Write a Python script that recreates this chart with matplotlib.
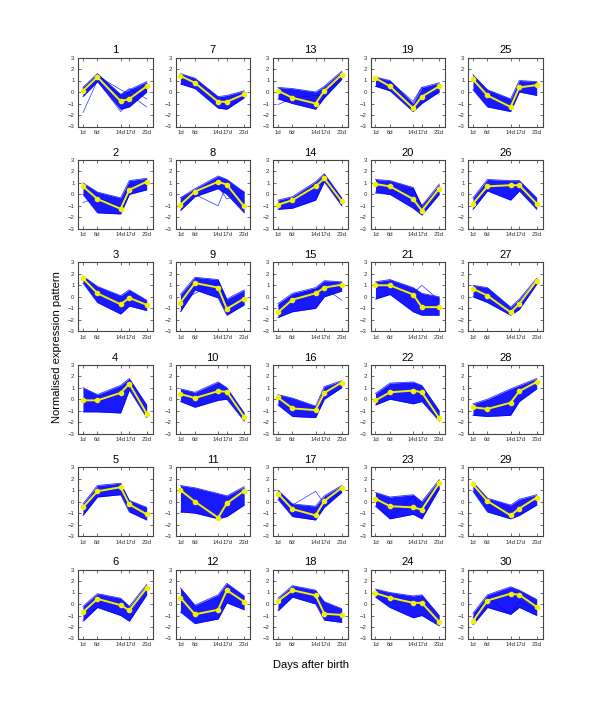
import matplotlib
matplotlib.use("Agg")
import matplotlib.pyplot as plt
import matplotlib.transforms as mtransforms

plt.rcParams['font.family'] = ['Liberation Sans', 'DejaVu Sans']

days = [1, 6, 14, 17, 23]
day_labels = ["1d", "6d", "14d", "17d", "23d"]
y_ticks = [-3, -2, -1, 0, 1, 2, 3]

# cluster id -> mean profile (yellow)
means = {
    1: [0.1, 1.3, -0.8, -0.6, 0.5],
    2: [0.7, -0.4, -1.25, 0.4, 1.1],
    3: [1.6, 0.3, -0.65, -0.1, -0.7],
    4: [-0.1, -0.1, 0.55, 1.35, -1.25],
    5: [-0.5, 0.9, 1.25, -0.25, -1.1],
    6: [-0.7, 0.45, -0.1, -0.55, 1.4],
    7: [1.4, 0.8, -0.85, -0.85, -0.2],
    8: [-0.9, 0.25, 1.1, 0.85, -1.05],
    9: [-0.5, 1.2, 0.8, -1.05, -0.15],
    10: [0.45, 0.1, 0.7, 0.65, -1.55],
    11: [1.0, 0.0, -1.4, -0.15, 0.95],
    12: [0.55, -0.9, -0.5, 1.2, 0.2],
    13: [0.1, -0.5, -1.0, 0.1, 1.5],
    14: [-0.9, -0.5, 0.7, 1.4, -0.6],
    15: [-1.35, -0.25, 0.3, 0.8, 1.05],
    16: [0.15, -0.8, -0.95, 0.55, 1.45],
    17: [0.7, -0.65, -1.2, 0.05, 1.2],
    18: [0.25, 1.2, 0.75, -0.85, -0.95],
    19: [1.2, 0.5, -1.4, -0.4, 0.5],
    20: [0.9, 0.7, -0.4, -1.4, 0.5],
    21: [1.0, 1.0, 0.2, -0.9, -0.9],
    22: [-0.1, 0.6, 0.75, 0.6, -1.65],
    23: [0.25, -0.4, -0.5, -0.7, 1.6],
    24: [0.95, 0.55, 0.1, 0.1, -1.55],
    25: [1.1, -0.3, -1.3, 0.4, 0.6],
    26: [-0.8, 0.7, 0.8, 0.8, -0.8],
    27: [0.7, 0.1, -1.35, -0.6, 1.4],
    28: [-0.7, -0.85, -0.3, 0.7, 1.5],
    29: [1.5, 0.05, -1.2, -0.6, 0.35],
    30: [-1.5, 0.3, 0.9, 0.8, -0.25],
}

# lower / upper envelope of the dense blue bundle
band_lo = {
    1: [-0.4, 0.9, -1.5, -1.3, 0.0],
    2: [0.0, -1.6, -1.7, 0.0, 0.4],
    3: [1.2, -0.5, -1.5, -0.8, -1.2],
    4: [-1.1, -1.1, -1.2, 0.8, -1.6],
    5: [-1.2, 0.4, 0.6, -0.9, -1.6],
    6: [-1.5, -0.3, -1.0, -1.5, 0.8],
    7: [0.7, 0.3, -1.4, -1.5, -0.5],
    8: [-1.4, -0.2, 0.5, 0.0, -1.6],
    9: [-1.3, 0.6, -0.1, -1.6, -0.7],
    10: [-0.2, -0.7, -0.1, 0.0, -1.9],
    11: [-0.9, -1.0, -1.5, -1.3, -0.3],
    12: [-0.7, -1.7, -1.3, 0.1, -0.5],
    13: [-0.6, -1.0, -1.5, -0.5, 1.1],
    14: [-1.3, -1.2, -0.5, 1.1, -1.0],
    15: [-1.8, -1.3, -1.0, 0.0, 0.5],
    16: [-0.5, -1.5, -1.6, 0.0, 1.0],
    17: [0.2, -1.3, -1.6, -0.5, 0.8],
    18: [-0.6, 0.6, 0.0, -1.4, -1.6],
    19: [0.5, 0.1, -1.7, -1.0, 0.0],
    20: [0.2, 0.0, -1.2, -1.8, 0.0],
    21: [-0.2, 0.2, -1.3, -1.6, -1.6],
    22: [-0.5, 0.0, -0.4, -0.2, -1.9],
    23: [-0.4, -1.5, -1.1, -1.5, 1.1],
    24: [0.6, -0.3, -1.2, -1.0, -1.9],
    25: [0.2, -1.3, -1.7, 0.0, -0.3],
    26: [-1.3, 0.3, -0.5, 0.3, -1.3],
    27: [0.0, -0.5, -1.6, -1.1, 1.1],
    28: [-1.4, -1.5, -1.4, -0.2, 0.9],
    29: [0.9, -0.9, -1.5, -1.2, -0.3],
    30: [-1.8, -0.3, -0.9, -0.3, -1.0],
}
band_hi = {
    1: [0.4, 1.6, -0.2, 0.2, 0.9],
    2: [1.0, 0.2, -0.3, 1.2, 1.4],
    3: [1.8, 0.9, 0.1, 0.6, -0.3],
    4: [1.0, 0.4, 1.2, 1.8, -0.5],
    5: [-0.2, 1.4, 1.6, 0.1, -0.5],
    6: [-0.2, 0.9, 0.5, -0.2, 1.7],
    7: [1.6, 1.2, -0.4, -0.3, 0.1],
    8: [-0.3, 0.5, 1.6, 1.3, 0.2],
    9: [0.2, 1.7, 1.5, -0.2, 0.6],
    10: [0.9, 0.6, 1.5, 1.0, -1.2],
    11: [1.4, 1.2, 0.7, 0.5, 1.3],
    12: [1.4, -0.1, 0.8, 1.8, 0.7],
    13: [0.4, 0.3, 0.0, 0.5, 1.8],
    14: [-0.5, -0.2, 1.1, 1.8, -0.3],
    15: [-0.6, 0.3, 0.8, 1.4, 1.3],
    16: [0.4, 0.1, -0.6, 1.1, 1.6],
    17: [1.0, -0.2, -0.4, 0.5, 1.4],
    18: [0.5, 1.6, 1.2, 0.2, -0.4],
    19: [1.3, 1.0, -1.0, 0.4, 0.8],
    20: [1.3, 1.2, 0.6, -1.0, 0.9],
    21: [1.3, 1.5, 0.8, 0.3, 0.0],
    22: [0.5, 1.4, 1.5, 1.2, -1.0],
    23: [0.8, 0.4, 0.6, 0.0, 1.9],
    24: [1.3, 1.0, 0.7, 0.8, -1.0],
    25: [1.5, 0.2, -0.6, 1.0, 0.9],
    26: [-0.3, 1.3, 1.2, 1.2, -0.3],
    27: [1.0, 0.8, -0.9, -0.2, 1.6],
    28: [-0.4, 0.0, 0.9, 1.2, 1.8],
    29: [1.7, 0.3, -0.3, 0.2, 0.6],
    30: [-0.8, 0.8, 1.5, 1.2, 0.4],
}

# a few stray gene profiles outside the main bundle
outliers = {
    1: [[-1.8, 1.0, -1.7, -1.0, 0.3], [0.3, 1.4, 0.2, -0.2, -1.3], [0.0, 1.2, -0.3, 0.3, -0.6]],
    2: [[-0.7, -0.3, -1.0, 0.8, 0.8]],
    8: [[-0.6, 0.0, -1.0, 0.9, -0.6], [-0.3, 0.3, 0.7, -0.4, 0.2]],
    9: [[-0.5, 0.3, 1.2, -0.6, -0.4]],
    13: [[-1.1, -0.5, -0.3, -0.3, 1.4]],
    15: [[-0.8, 0.0, 0.6, 0.8, -0.3]],
    17: [[0.5, -0.3, 0.9, -0.2, 1.0]],
    19: [[0.5, 0.9, -0.8, 0.4, -0.2]],
    20: [[0.1, 0.0, 0.5, -1.0, 0.4]],
    21: [[0.8, 0.9, 0.3, 1.0, -0.3]],
    23: [[0.0, -1.5, 0.5, -1.0, 1.3]],
    30: [[-1.2, 0.6, -0.9, 0.2, -0.6]],
}

BLUE = "#0000ff"
YELLOW = "#f2f200"

fig = plt.figure(figsize=(6.0, 7.17), dpi=100)
W, H = 600.0, 717.0
col_left = [78, 175.5, 273, 370.5, 468]
row_top = [57.5 + 102.4 * i for i in range(6)]
aw, ah = 74.5, 69

for c in range(5):
    for r in range(6):
        cid = c * 6 + r + 1
        ax = fig.add_axes([col_left[c] / W, 1 - (row_top[r] + ah) / H, aw / W, ah / H])
        ax.fill_between(days, band_lo[cid], band_hi[cid], color=BLUE, alpha=0.9, lw=0)
        ax.plot(days, band_lo[cid], color=BLUE, lw=0.6, alpha=0.8)
        ax.plot(days, band_hi[cid], color=BLUE, lw=0.6, alpha=0.8)
        for o in outliers.get(cid, []):
            ax.plot(days, o, color=BLUE, lw=0.5, alpha=0.8)
        ax.plot(days, means[cid], color=YELLOW, lw=1.4, marker='o', ms=3,
                mec=YELLOW, mfc=YELLOW, zorder=5)
        ax.set_xlim(-0.7, 25)
        ax.set_ylim(-3, 3)
        ax.set_xticks(days)
        ax.set_xticklabels(day_labels)
        ax.set_yticks(y_ticks)
        ax.set_yticklabels([str(t).replace('-', '\u2212') for t in y_ticks])
        ax.tick_params(direction='in', length=2, width=0.5, labelsize=4.3,
                       top=True, right=True, pad=2.5, colors='#333333')
        # nudge the closely spaced 14d / 17d labels apart
        labs = ax.get_xticklabels()
        labs[2].set_horizontalalignment('right')
        labs[2].set_transform(labs[2].get_transform() +
                              mtransforms.ScaledTranslation(4.6 / 100, 0, fig.dpi_scale_trans))
        labs[3].set_horizontalalignment('left')
        labs[3].set_transform(labs[3].get_transform() +
                              mtransforms.ScaledTranslation(-4.0 / 100, 0, fig.dpi_scale_trans))
        for s in ax.spines.values():
            s.set_linewidth(0.8)
            s.set_color('#444444')
        ax.set_title(str(cid), fontsize=8, pad=3)

fig.text(57 / W, 1 - 347 / H, "Normalised expression pattern", rotation=90,
         ha='center', va='center', fontsize=8)
fig.text(311 / W, 1 - 665 / H, "Days after birth", ha='center', va='center', fontsize=8)

fig.savefig("out.png", dpi=100)
